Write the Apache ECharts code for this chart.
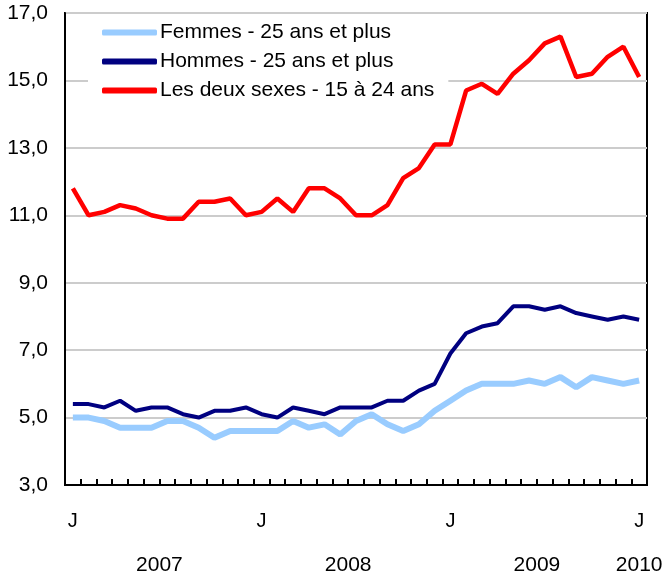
<!DOCTYPE html>
<html lang="fr">
<head>
    <meta charset="UTF-8">
    <title>Taux de chômage</title>
    <script src="https://cdn.jsdelivr.net/npm/echarts@6/dist/echarts.min.js"></script>
    <style>
        html, body { margin: 0; padding: 0; background: #fff; }
    </style>
</head>
<body>
<div id="main" style="width: 664px;height:581px;"></div>
<script type="text/javascript">
    // mois de janvier 2007 à janvier 2010
    var months = [];
    var monthLetters = ['J', 'F', 'M', 'A', 'M', 'J', 'J', 'A', 'S', 'O', 'N', 'D'];
    for (var y = 2007; y <= 2010; y++) {
        for (var m = 0; m < 12; m++) {
            if (y === 2010 && m > 0) break;
            months.push(monthLetters[m] + ' ' + y);
        }
    }
    var years = ['2007', '2008', '2009', '2010'];
    var yearPos = [[5, 6], [17, 18], [29, 30], [36, 36]];

    var femmes = [5.0, 5.0, 4.9, 4.7, 4.7, 4.7, 4.9, 4.9, 4.7, 4.4,
        4.6, 4.6, 4.6, 4.6, 4.9, 4.7, 4.8, 4.5, 4.9, 5.1,
        4.8, 4.6, 4.8, 5.2, 5.5, 5.8, 6.0, 6.0, 6.0, 6.1,
        6.0, 6.2, 5.9, 6.2, 6.1, 6.0, 6.1];
    var hommes = [5.4, 5.4, 5.3, 5.5, 5.2, 5.3, 5.3, 5.1, 5.0, 5.2,
        5.2, 5.3, 5.1, 5.0, 5.3, 5.2, 5.1, 5.3, 5.3, 5.3,
        5.5, 5.5, 5.8, 6.0, 6.9, 7.5, 7.7, 7.8, 8.3, 8.3,
        8.2, 8.3, 8.1, 8.0, 7.9, 8.0, 7.9];
    var jeunes = [11.8, 11.0, 11.1, 11.3, 11.2, 11.0, 10.9, 10.9, 11.4, 11.4,
        11.5, 11.0, 11.1, 11.5, 11.1, 11.8, 11.8, 11.5, 11.0, 11.0,
        11.3, 12.1, 12.4, 13.1, 13.1, 14.7, 14.9, 14.6, 15.2, 15.6,
        16.1, 16.3, 15.1, 15.2, 15.7, 16.0, 15.1];

    var font = 'Liberation Sans, Arial, Helvetica, sans-serif';
    var myChart = echarts.init(document.getElementById('main'));
    var option = {
        animation: false,
        textStyle: {fontFamily: font},
        grid: {
            left: 65, right: 17, top: 13, bottom: 96,
            show: true,
            borderColor: '#000',
            borderWidth: 2
        },
        legend: {
            orient: 'vertical',
            left: 88,
            top: 18,
            padding: [4, 14, 4, 14],
            backgroundColor: '#fff',
            itemWidth: 55,
            itemHeight: 6,
            itemGap: 8,
            icon: 'roundRect',
            textStyle: {fontSize: 21, color: '#000', fontFamily: font, padding: [0, 0, 0, -2]},
            data: ['Femmes - 25 ans et plus', 'Hommes - 25 ans et plus', 'Les deux sexes - 15 à 24 ans']
        },
        xAxis: {
            type: 'category',
            data: months,
            boundaryGap: true,
            axisLine: {lineStyle: {color: '#000', width: 2}},
            axisTick: {
                show: true, interval: 0, inside: true, length: 6,
                lineStyle: {color: '#000', width: 2}
            },
            axisLabel: {
                interval: function (i) { return i % 12 === 0; },
                formatter: function (v) { return v.charAt(0); },
                fontSize: 20, color: '#000', margin: 26, fontFamily: font
            },
            splitLine: {show: false}
        },
        yAxis: {
            type: 'value',
            min: 3,
            max: 17,
            interval: 2,
            axisLine: {show: true, lineStyle: {color: '#000', width: 2}},
            axisTick: {show: false},
            axisLabel: {
                formatter: function (v) { return v.toFixed(1).replace('.', ','); },
                fontSize: 21, color: '#000', margin: 17, fontFamily: font
            },
            splitLine: {lineStyle: {color: '#cccccc', width: 2}}
        },
        series: [
            {
                name: 'Femmes - 25 ans et plus',
                type: 'line',
                data: femmes,
                symbol: 'none',
                z: 2,
                color: '#99ccff',
                lineStyle: {color: '#99ccff', width: 6}
            },
            {
                name: 'Hommes - 25 ans et plus',
                type: 'line',
                data: hommes,
                symbol: 'none',
                z: 3,
                color: '#000080',
                lineStyle: {color: '#000080', width: 4}
            },
            {
                name: 'Les deux sexes - 15 à 24 ans',
                type: 'line',
                data: jeunes,
                symbol: 'none',
                z: 4,
                color: '#ff0000',
                lineStyle: {color: '#ff0000', width: 4.5}
            }
        ]
    };
    myChart.setOption(option);

    // étiquettes des années sous l'axe
    var yearLabels = [];
    for (var k = 0; k < years.length; k++) {
        var x1 = myChart.convertToPixel({xAxisIndex: 0}, yearPos[k][0]);
        var x2 = myChart.convertToPixel({xAxisIndex: 0}, yearPos[k][1]);
        yearLabels.push({
            type: 'text',
            x: (x1 + x2) / 2,
            y: 565,
            style: {
                text: years[k],
                fill: '#000',
                font: '21px ' + font,
                textAlign: 'center',
                textVerticalAlign: 'middle'
            }
        });
    }
    myChart.setOption({graphic: yearLabels});
</script>
</body>
</html>
